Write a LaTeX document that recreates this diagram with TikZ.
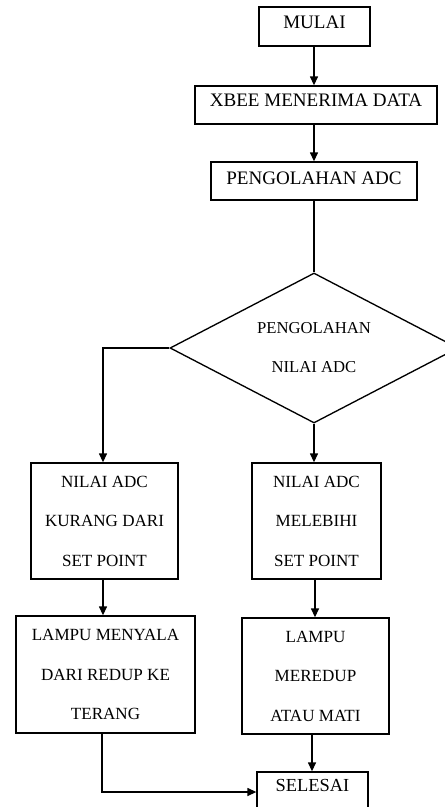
\documentclass[tikz,border=0pt]{standalone}
\usepackage{fontspec}
\setmainfont{Liberation Serif}
\usetikzlibrary{shapes.geometric,arrows.meta}
\begin{document}
\begin{tikzpicture}[x=0.75pt,y=-0.75pt,
  big/.style={font=\fontsize{14.3}{29.6}\selectfont},
  small/.style={font=\fontsize{12.8}{29.6}\selectfont},
  box/.style={draw, line width=1pt, inner sep=0pt, align=center},
  tbox/.style 2 args={box, big, text height=#1, text depth=#2},
  mbox/.style={box, small},
  arr/.style={line width=1pt, -{Triangle[length=6.75pt,width=6pt]}},
  ln/.style={line width=1pt}]
\useasboundingbox (0,0) rectangle (445,807);

\node[tbox={16.4pt}{12.8pt}, minimum width=83.25pt] (mulai) at (314.5,26.5) {MULAI};
\node[tbox={15.3pt}{13.2pt}, minimum width=181.5pt] (xbee) at (316,105) {XBEE MENERIMA DATA};
\node[tbox={16.8pt}{11.7pt}, minimum width=154.5pt] (peng) at (314,181) {PENGOLAHAN ADC};
\node[draw, line width=1pt, diamond, aspect=1.92, minimum width=216pt, minimum height=112.5pt,
      inner sep=0pt, align=center, font=\fontsize{12.5}{29.2}\selectfont] (dia) at (314,348) {PENGOLAHAN\\NILAI ADC};
\node[mbox, minimum width=110.25pt, minimum height=87pt] (lb1) at (104.5,521) {NILAI ADC\\KURANG DARI\\SET POINT};
\node[mbox, minimum width=96.75pt, minimum height=87pt] (rb1) at (316.5,521) {NILAI ADC\\MELEBIHI\\SET POINT};
\node[mbox, minimum width=134.25pt, minimum height=87.75pt] (lb2) at (105.5,674.5) {LAMPU MENYALA\\DARI REDUP KE\\TERANG};
\node[mbox, minimum width=110.25pt, minimum height=87pt] (rb2) at (315.5,676) {LAMPU\\MEREDUP\\ATAU MATI};
\node[tbox={14.25pt}{15.75pt}, minimum width=83.25pt, font=\fontsize{13.8}{16}\selectfont] (sel) at (312.5,792) {SELESAI};

\draw[arr] (314,0 |- mulai.south) -- (314,0 |- xbee.north);
\draw[arr] (314,0 |- xbee.south) -- (314,0 |- peng.north);
\draw[ln] (314,0 |- peng.south) -- (dia.north);
\draw[arr] (dia.west) -| (lb1.north -| 103,0);
\draw[arr] (dia.south) -- (dia.south |- rb1.north);
\draw[arr] (103,0 |- lb1.south) -- (103,0 |- lb2.north);
\draw[arr] (315,0 |- rb1.south) -- (315,0 |- rb2.north);
\draw[arr] (312,0 |- rb2.south) -- (312,0 |- sel.north);
\draw[arr] (102,0 |- lb2.south) |- (sel.west);
\end{tikzpicture}
\end{document}
